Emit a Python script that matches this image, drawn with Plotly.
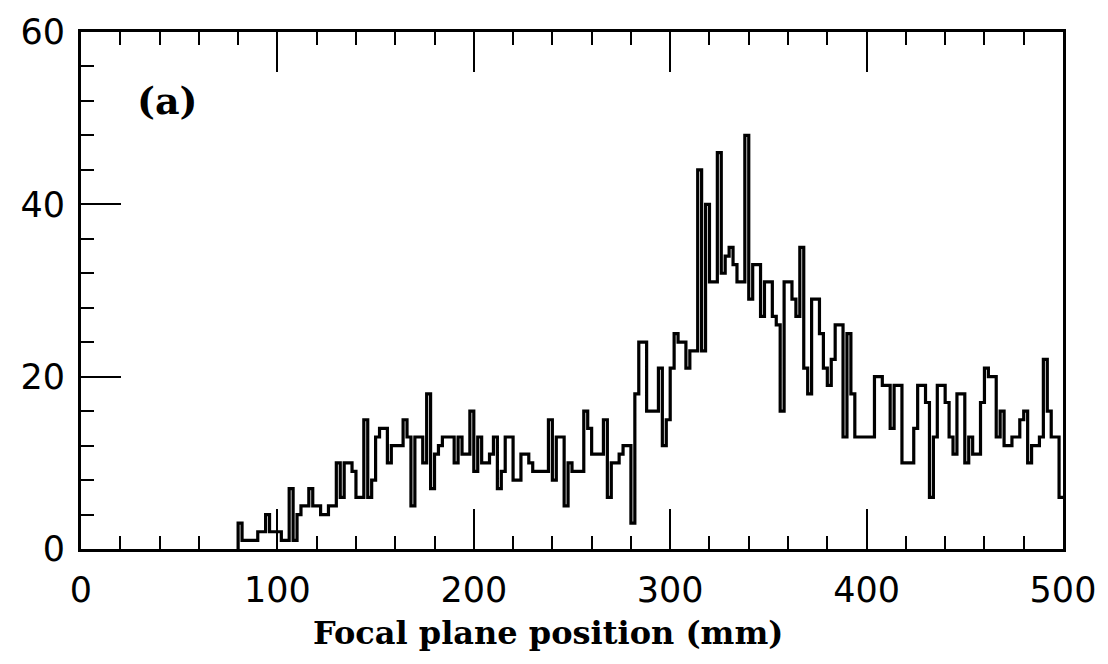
import numpy as np
import plotly.graph_objects as go

# Histogram of hits along the focal plane: 2 mm bins starting at 80 mm
bin_start_mm = 80
bin_width_mm = 2
counts = [
    3, 1, 1, 1, 1, 2, 2, 4, 2, 2,          # 80-98
    2, 1, 1, 7, 1, 4, 5, 5, 7, 5,          # 100-118
    5, 4, 4, 5, 5, 10, 6, 10, 10, 9,       # 120-138
    6, 6, 15, 6, 8, 13, 14, 14, 10, 12,    # 140-158
    12, 12, 15, 13, 5, 13, 13, 10, 18, 7,  # 160-178
    11, 12, 13, 13, 13, 10, 13, 11, 11, 16,  # 180-198
    9, 13, 10, 10, 11, 13, 7, 9, 13, 13,   # 200-218
    8, 8, 11, 11, 10, 9, 9, 9, 9, 15,      # 220-238
    8, 13, 13, 5, 10, 9, 9, 9, 16, 14,     # 240-258
    11, 11, 11, 15, 6, 10, 10, 11, 12, 12,  # 260-278
    3, 18, 24, 24, 16, 16, 16, 21, 12, 15,  # 280-298
    21, 25, 24, 24, 21, 23, 23, 44, 23, 40,  # 300-318
    31, 31, 46, 32, 34, 35, 33, 31, 31, 48,  # 320-338
    29, 33, 33, 27, 31, 31, 27, 26, 16, 31,  # 340-358
    31, 29, 27, 35, 21, 18, 29, 29, 25, 21,  # 360-378
    19, 22, 26, 26, 13, 25, 18, 13, 13, 13,  # 380-398
    13, 13, 20, 20, 19, 19, 14, 19, 19, 10,  # 400-418
    10, 10, 14, 19, 19, 17, 6, 13, 19, 19,  # 420-438
    17, 13, 11, 18, 18, 10, 13, 11, 11, 17,  # 440-458
    21, 20, 20, 13, 16, 12, 12, 13, 13, 15,  # 460-478
    16, 10, 12, 12, 13, 22, 16, 13, 13, 6,  # 480-498
]

x_major = [0, 100, 200, 300, 400, 500]
y_major = [0, 20, 40, 60]

edges = bin_start_mm + bin_width_mm * np.arange(len(counts) + 1)
step_x = [edges[0]] + list(edges)
step_y = [0] + counts + [counts[-1]]

fig = go.Figure()
fig.add_trace(go.Scatter(
    x=step_x, y=step_y, mode="lines",
    line=dict(shape="hv", color="black", width=3.2),
    hoverinfo="skip", showlegend=False,
))

tick_font = dict(family="DejaVu Sans", size=35, color="black")
serif_bold = dict(family="DejaVu Serif", size=32, color="black", weight="bold")

fig.update_xaxes(
    range=[0, 500], tickvals=x_major, ticktext=[str(v) for v in x_major],
    ticks="inside", ticklen=40, tickwidth=2, tickcolor="black",
    minor=dict(dtick=20, ticks="inside", ticklen=13, tickwidth=2, tickcolor="black"),
    showline=True, linewidth=3, linecolor="black", mirror="ticks",
    showgrid=False, zeroline=False, tickfont=tick_font, ticklabelstandoff=8,
)
fig.update_yaxes(
    range=[0, 60], tickvals=y_major, ticktext=[str(v) for v in y_major],
    ticks="inside", ticklen=40, tickwidth=2, tickcolor="black",
    minor=dict(dtick=4, ticks="inside", ticklen=13, tickwidth=2, tickcolor="black"),
    showline=True, linewidth=3, linecolor="black", mirror=True,
    showgrid=False, zeroline=False, tickfont=tick_font, ticklabelstandoff=6,
)

fig.add_annotation(
    x=238, y=-0.163, xref="x", yref="paper", text="Focal plane position (mm)",
    showarrow=False, font=serif_bold, xanchor="center", yanchor="middle",
)
fig.add_annotation(
    x=44, y=52, xref="x", yref="y", text="(a)",
    showarrow=False, font=dict(family="DejaVu Serif", size=38, color="black", weight="bold"),
    xanchor="center", yanchor="middle",
)

fig.update_layout(
    width=1108, height=664,
    margin=dict(l=81, r=43, t=22, b=115),
    paper_bgcolor="white", plot_bgcolor="white",
)

fig.write_html("out.html")
